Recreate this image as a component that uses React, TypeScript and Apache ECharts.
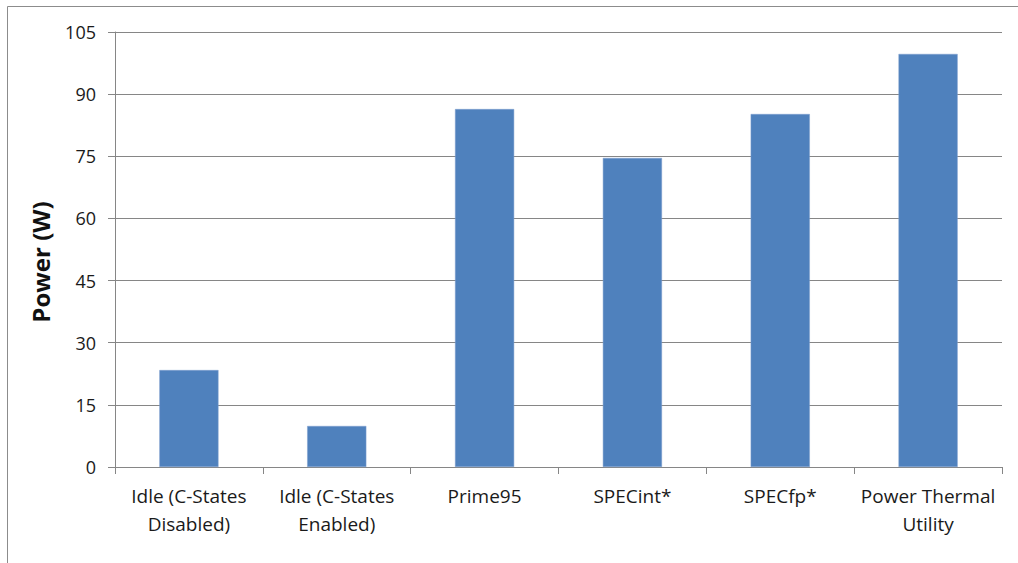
import React, { useEffect, useRef } from "react";
import * as echarts from "echarts";

const categories = [
  "Idle (C-States\nDisabled)",
  "Idle (C-States\nEnabled)",
  "Prime95",
  "SPECint*",
  "SPECfp*",
  "Power Thermal\nUtility",
];
const powerValues = [23.4, 9.9, 86.4, 74.6, 85.2, 99.7];
const yAxisName = "Power (W)";

export default function App() {
  const ref = useRef<HTMLDivElement>(null);
  useEffect(() => {
    if (!ref.current) return;
    const chart = echarts.init(ref.current, null, { renderer: "svg" });
    const font = "'Open Sans', 'Noto Sans', sans-serif";
    chart.setOption({
      animation: false,
      backgroundColor: "#ffffff",
      grid: { left: 115, right: 16, top: 32, bottom: 96, containLabel: false },
      graphic: [
        {
          type: "rect",
          shape: { x: 7.5, y: 6.5, width: 1200, height: 800 },
          style: { fill: "none", stroke: "#8c8c8c", lineWidth: 1 },
          silent: true,
        },
        {
          type: "text",
          x: 40,
          y: 262,
          rotation: Math.PI / 2,
          style: {
            text: yAxisName,
            fontSize: 24,
            fontWeight: "bold",
            fontFamily: font,
            fill: "#111111",
            textAlign: "center",
            textVerticalAlign: "middle",
          },
          silent: true,
        },
      ],
      xAxis: {
        type: "category",
        data: categories,
        axisLine: { show: true, lineStyle: { color: "#868686", width: 1 } },
        axisTick: { show: true, alignWithLabel: false, length: 7, lineStyle: { color: "#868686" } },
        axisLabel: {
          color: "#1a1a1a",
          fontSize: 19,
          fontFamily: font,
          margin: 15,
          lineHeight: 28,
          interval: 0,
        },
        splitLine: { show: false },
      },
      yAxis: {
        type: "value",
        min: 0,
        max: 105,
        interval: 15,
        axisLine: { show: true, lineStyle: { color: "#868686", width: 1 } },
        axisTick: { show: true, length: 7, lineStyle: { color: "#868686" } },
        axisLabel: { color: "#1a1a1a", fontSize: 18, fontFamily: font, margin: 19 },
        splitLine: { show: true, lineStyle: { color: "#868686", width: 1 } },
      },
      series: [
        {
          type: "bar",
          data: powerValues,
          barWidth: "40%",
          itemStyle: { color: "#4f81bd", borderColor: "#7f9fcf", borderWidth: 0.5 },
        },
      ],
    });
    return () => chart.dispose();
  }, []);
  return (
    <div
      ref={ref}
      style={{ position: "fixed", left: 0, top: 0, width: 1018, height: 563 }}
    />
  );
}
